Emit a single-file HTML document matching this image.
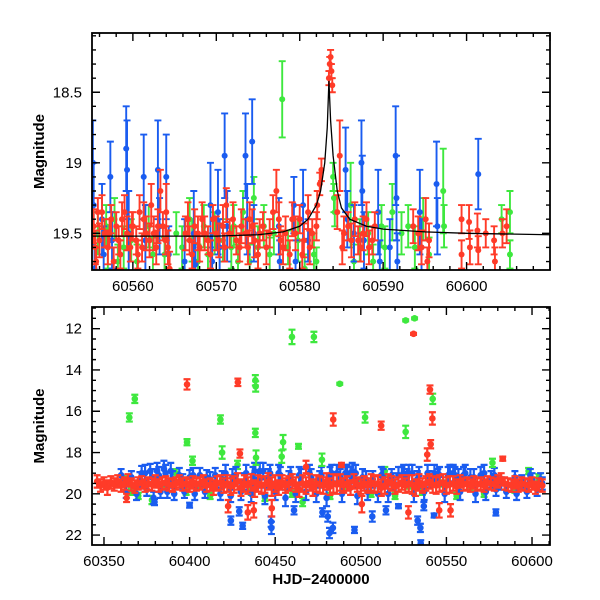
<!DOCTYPE html>
<html><head><meta charset="utf-8"><style>
html,body{margin:0;padding:0;background:#fff;}
svg{display:block;font-family:"Liberation Sans",Helvetica,sans-serif;}
</style></head><body>
<svg id="chart" width="600" height="600" viewBox="0 0 600 600">
<defs>
<clipPath id="clipTop"><rect x="92" y="33" width="458" height="237"/></clipPath>
<clipPath id="clipBot"><rect x="92" y="307" width="458" height="238"/></clipPath>
</defs>
<g id="top"></g>
<g id="bot"></g>
</svg>
<script>
// ---------- data: top panel (zoom around peak) ----------
const topRed=[[60555.3,19.45,.12],[60555.5,19.6,.12],[60555.8,19.35,.1],[60556.0,19.55,.12],[60556.6,19.5,.1],[60557.0,19.6,.12],[60557.4,19.4,.1],[60557.7,19.7,.1],[60558.0,19.45,.1],[60558.3,19.55,.1],[60558.7,19.4,.12],[60559.3,19.5,.12],[60559.7,19.6,.1],[60560.0,19.45,.1],[60560.4,19.55,.1],[60560.8,19.35,.12],[60561.1,19.6,.1],[60561.6,19.5,.12],[60562.2,19.3,.15],[60562.5,19.5,.12],[60562.8,19.6,.12],[60563.3,19.2,.15],[60563.6,19.45,.1],[60564.0,19.35,.2],[60564.2,19.6,.12],[60564.4,19.75,.12],[60566.3,19.5,.12],[60566.8,19.55,.1],[60567.4,19.45,.12],[60568.0,19.6,.1],[60568.6,19.5,.12],[60569.0,19.55,.1],[60569.6,19.4,.1],[60570.3,19.55,.12],[60570.8,19.45,.15],[60571.2,19.3,.12],[60571.6,19.5,.1],[60572.4,19.55,.1],[60573.0,19.45,.12],[60573.5,19.5,.1],[60574.0,19.4,.12],[60574.6,19.55,.12],[60575.2,19.5,.1],[60575.6,19.45,.1],[60576.0,19.6,.12],[60576.8,19.35,.12],[60577.2,19.2,.15],[60577.7,19.55,.1],[60578.3,19.5,.12],[60578.8,19.65,.1],[60579.5,19.5,.12],[60580.0,19.4,.1],[60580.5,19.55,.12],[60581.0,19.35,.12],[60581.5,19.5,.1],[60582.1,19.3,.1],[60582.4,19.15,.08],[60582.6,19.05,.08],[60583.5,18.4,.05],[60583.6,18.3,.05],[60583.7,18.25,.05],[60583.8,18.35,.05],[60583.9,18.45,.05],[60584.5,19.35,.12],[60584.8,18.95,.25],[60585.3,19.5,.12],[60585.8,19.45,.1],[60586.6,19.4,.12],[60587.0,19.55,.1],[60587.6,19.5,.12],[60588.3,19.6,.12],[60589.0,19.45,.1],[60593.6,19.45,.12],[60594.6,19.6,.12],[60595.1,19.4,.15],[60595.5,19.55,.12],[60599.4,19.4,.1],[60599.4,19.65,.1],[60600.3,19.42,.12],[60600.4,19.6,.12],[60601.3,19.48,.12],[60601.4,19.62,.1],[60602.3,19.5,.1],[60603.3,19.55,.1],[60603.4,19.7,.1],[60604.3,19.5,.1],[60604.8,19.45,.12]];
const topRedExtra=[[60555.6,19.7,.1],[60556.3,19.35,.12],[60557.2,19.5,.1],[60558.5,19.65,.1],[60559.0,19.35,.12],[60559.9,19.45,.1],[60560.6,19.65,.1],[60561.3,19.4,.12],[60562.0,19.55,.12],[60563.0,19.45,.12],[60563.9,19.55,.1],[60566.6,19.4,.12],[60567.1,19.65,.1],[60567.8,19.5,.12],[60568.3,19.4,.12],[60569.3,19.65,.1],[60570.0,19.5,.12],[60571.0,19.6,.1],[60572.0,19.4,.12],[60572.8,19.6,.1],[60573.8,19.6,.12],[60574.3,19.45,.12],[60575.0,19.65,.1],[60576.4,19.5,.1],[60577.5,19.4,.12],[60578.0,19.6,.12],[60579.1,19.4,.12],[60580.3,19.65,.1],[60581.2,19.6,.12],[60582.0,19.45,.1],[60585.1,19.6,.12],[60586.2,19.55,.12],[60587.3,19.6,.1],[60588.0,19.4,.12],[60588.7,19.55,.1],[60594.2,19.5,.12],[60595.3,19.7,.1]];
const topBlue=[[60555.2,19.0,.3],[60555.3,19.3,.3],[60555.4,19.75,.25],[60556.3,19.4,.25],[60556.5,19.65,.2],[60557.3,19.1,.25],[60557.5,19.55,.2],[60559.2,18.9,.3],[60559.3,19.05,.35],[60559.5,19.5,.3],[60561.3,19.1,.3],[60561.5,19.55,.25],[60563.0,19.05,.35],[60563.2,19.45,.2],[60564.0,19.1,.3],[60564.3,19.65,.2],[60566.2,19.7,.3],[60567.3,19.5,.3],[60567.5,19.72,.2],[60569.3,19.3,.3],[60569.5,19.7,.2],[60570.2,19.35,.3],[60570.4,19.6,.2],[60571.0,18.95,.3],[60571.3,19.45,.25],[60573.5,18.95,.3],[60573.7,19.4,.25],[60574.3,18.85,.3],[60574.5,19.5,.2],[60577.5,19.45,.2],[60577.6,19.7,.15],[60579.3,19.3,.2],[60579.5,19.7,.15],[60580.4,19.3,.25],[60581.0,19.55,.15],[60585.5,19.05,.3],[60585.7,19.4,.2],[60586.5,19.5,.2],[60587.4,19.0,.3],[60587.5,19.2,.25],[60587.7,19.55,.2],[60589.4,19.35,.3],[60589.6,19.7,.15],[60590.8,19.6,.2],[60591.5,18.95,.35],[60591.6,19.25,.3],[60591.7,19.7,.2],[60594.4,19.35,.3],[60594.6,19.6,.2],[60596.4,19.15,.3],[60596.5,19.45,.2],[60601.4,19.08,.25]];
const topGreen=[[60555.8,19.5,.15],[60557.0,19.6,.15],[60557.8,19.4,.15],[60558.2,19.7,.12],[60559.8,19.55,.15],[60560.5,19.7,.12],[60561.9,19.45,.15],[60563.8,19.65,.12],[60565.9,19.6,.15],[60566.8,19.4,.15],[60567.8,19.7,.12],[60568.5,19.45,.15],[60569.0,19.65,.12],[60570.8,19.55,.15],[60571.8,19.6,.15],[60572.6,19.7,.12],[60573.2,19.35,.15],[60574.5,19.25,.15],[60575.0,19.6,.15],[60575.7,19.45,.15],[60576.4,19.65,.12],[60577.9,18.55,.27],[60578.6,19.6,.12],[60580.6,19.75,.1],[60581.7,19.65,.15],[60582.0,19.7,.1],[60584.0,19.1,.1],[60584.1,19.25,.1],[60584.2,19.35,.1],[60586.1,19.3,.3],[60586.5,19.7,.12],[60587.2,19.55,.15],[60588.2,19.5,.15],[60588.8,19.7,.12],[60589.8,19.45,.15],[60591.1,19.35,.2],[60592.2,19.5,.15],[60593.8,19.6,.15],[60594.8,19.4,.15],[60595.5,19.65,.12],[60597.2,19.2,.3],[60597.3,19.45,.15],[60604.2,19.4,.1],[60605.2,19.35,.15],[60605.2,19.65,.1],[60556.8,19.45,.15],[60558.9,19.6,.15],[60562.4,19.65,.12],[60565.2,19.5,.15],[60567.1,19.55,.15],[60569.8,19.5,.15],[60572.1,19.45,.15],[60574.0,19.7,.12],[60576.9,19.5,.15],[60579.8,19.55,.15],[60590.2,19.6,.15],[60593.0,19.45,.15]];
const modelT=[60555,60560,60565,60570,60575,60578,60580,60581,60582,60582.5,60583,60583.3,60583.5,60583.7,60584,60584.5,60585,60586,60588,60590,60595,60600,60610];
const modelM=[19.52,19.52,19.52,19.52,19.51,19.49,19.45,19.40,19.3,19.2,19.0,18.75,18.42,18.7,18.95,19.2,19.32,19.4,19.45,19.47,19.49,19.5,19.51];
const topXTicks=[60560,60570,60580,60590,60600];
const topYTicks=["18.5","19","19.5"];

// ---------- data: bottom panel (full season) ----------
const botRedBand=[[60346,19.4,.3],[60348,19.6,.3],[60350,19.5,.3],[60352,19.7,.35],[60354,19.45,.3],[60356,19.55,.3],[60358,19.4,.3],[60360,19.6,.3],[60362,19.5,.3],[60364,19.35,.3],[60366,19.55,.3],[60368,19.65,.3],[60370,19.5,.3],[60372,19.45,.3],[60374,19.6,.3],[60376,19.5,.3],[60378,19.55,.3],[60380,19.4,.3],[60382,19.6,.3],[60384,19.5,.3],[60386,19.45,.3],[60388,19.55,.3],[60390,19.6,.3],[60392,19.5,.3],[60394,19.4,.3],[60396,19.55,.3],[60398,19.5,.3],[60400,19.6,.3],[60402,19.45,.3],[60404,19.55,.3],[60406,19.5,.3],[60408,19.4,.3],[60410,19.6,.3],[60412,19.55,.3],[60414,19.7,.35],[60416,19.5,.35],[60418,19.45,.35],[60420,19.6,.35],[60422,19.5,.4],[60424,19.65,.4],[60426,19.55,.4],[60428,19.4,.4],[60430,19.7,.4],[60432,19.5,.4],[60434,19.6,.4],[60436,19.45,.4],[60438,19.75,.4],[60440,19.5,.4],[60442,19.6,.4],[60444,19.55,.4],[60446,19.4,.4],[60448,19.65,.45],[60450,19.5,.4],[60452,19.7,.35],[60454,19.45,.35],[60456,19.6,.35],[60458,19.5,.35],[60460,19.4,.35],[60462,19.55,.35],[60464,19.8,.35],[60466,19.5,.4],[60468,19.6,.4],[60470,19.45,.4],[60472,19.7,.4],[60474,19.5,.4],[60476,19.55,.4],[60478,19.6,.4],[60480,19.4,.4],[60482,19.65,.4],[60484,19.5,.45],[60486,19.55,.45],[60488,19.45,.4],[60490,19.6,.35],[60492,19.5,.35],[60494,19.7,.35],[60496,19.4,.35],[60498,19.55,.35],[60500,19.65,.35],[60502,19.5,.35],[60504,19.6,.35],[60506,19.45,.4],[60508,19.55,.4],[60510,19.5,.4],[60512,19.7,.4],[60514,19.6,.4],[60516,19.4,.35],[60518,19.5,.35],[60520,19.65,.35],[60522,19.55,.35],[60524,19.45,.35],[60526,19.6,.35],[60528,19.5,.4],[60530,19.55,.45],[60532,19.7,.4],[60534,19.45,.4],[60536,19.6,.35],[60538,19.5,.35],[60540,19.4,.35],[60542,19.55,.4],[60544,19.6,.4],[60546,19.5,.4],[60548,19.45,.4],[60550,19.6,.4],[60552,19.55,.4],[60554,19.5,.35],[60556,19.65,.35],[60558,19.4,.3],[60560,19.55,.3],[60562,19.5,.3],[60564,19.6,.3],[60566,19.45,.3],[60568,19.55,.3],[60570,19.5,.3],[60572,19.6,.3],[60574,19.45,.3],[60576,19.5,.3],[60578,19.55,.3],[60580,19.4,.3],[60582,19.3,.3],[60584,19.5,.3],[60586,19.55,.3],[60588,19.6,.3],[60590,19.45,.3],[60592,19.6,.3],[60594,19.5,.3],[60596,19.55,.3],[60598,19.6,.3],[60600,19.5,.3],[60602,19.7,.3],[60604,19.55,.3],[60606,19.6,.3]];
const botBlueBand=[[60360,19.1,.3],[60363,19.9,.3],[60366,19.2,.3],[60369,20.0,.3],[60372,19.0,.35],[60375,19.8,.3],[60377,18.9,.35],[60379,20.2,.3],[60381,18.9,.4],[60383,19.9,.3],[60385,18.8,.4],[60387,19.9,.3],[60389,18.9,.4],[60391,20.0,.3],[60394,19.1,.35],[60397,19.9,.3],[60400,19.2,.35],[60403,20.0,.3],[60406,19.1,.35],[60409,19.9,.3],[60412,19.3,.35],[60415,19.1,.35],[60418,20.0,.3],[60421,19.0,.4],[60424,20.1,.3],[60427,19.1,.4],[60430,19.9,.4],[60433,19.0,.4],[60436,20.0,.4],[60438,18.9,.4],[60441,18.9,.4],[60444,20.1,.4],[60447,19.0,.4],[60450,19.9,.4],[60453,19.1,.4],[60456,20.2,.4],[60459,19.1,.4],[60462,20.0,.4],[60465,19.2,.4],[60468,19.9,.4],[60471,19.2,.4],[60474,20.0,.4],[60477,19.1,.4],[60480,20.2,.4],[60483,19.0,.4],[60486,19.0,.4],[60489,20.0,.4],[60492,19.0,.4],[60495,18.9,.4],[60498,20.1,.4],[60501,19.2,.4],[60504,19.9,.4],[60507,19.3,.4],[60510,20.0,.4],[60513,19.2,.4],[60516,20.0,.4],[60519,19.4,.4],[60522,19.1,.4],[60525,19.0,.4],[60528,19.0,.4],[60531,20.0,.4],[60534,19.1,.4],[60537,19.9,.4],[60540,19.3,.4],[60543,19.0,.4],[60546,19.1,.4],[60549,20.0,.4],[60552,19.0,.4],[60555,19.1,.4],[60558,19.9,.4],[60561,19.0,.4],[60564,19.2,.4],[60567,20.0,.4],[60570,19.1,.4],[60573,19.9,.4],[60576,19.3,.4],[60579,19.8,.3],[60582,19.5,.3],[60585,19.9,.3],[60588,19.6,.3],[60591,20.0,.3],[60594,19.4,.3],[60597,19.9,.3],[60600,19.3,.3],[60603,19.8,.3],[60606,19.5,.3]];
const botBlueBand2=[[60371,19.3,.35],[60374,19.0,.4],[60378,19.2,.4],[60382,19.1,.4],[60386,19.0,.4],[60390,19.3,.4],[60396,19.4,.35],[60402,19.1,.35],[60410,19.2,.35],[60419,19.3,.4],[60425,19.2,.4],[60432,19.4,.4],[60437,19.1,.4],[60440,19.3,.4],[60443,18.9,.4],[60446,19.2,.4],[60452,19.0,.4],[60458,19.3,.4],[60464,19.1,.4],[60470,19.0,.4],[60476,19.3,.4],[60482,19.1,.4],[60488,19.2,.4],[60491,19.0,.4],[60494,19.1,.4],[60497,19.0,.4],[60503,19.3,.4],[60512,19.1,.4],[60518,19.2,.4],[60524,19.1,.4],[60527,19.2,.4],[60530,19.0,.4],[60533,19.3,.4],[60539,19.0,.4],[60545,19.2,.4],[60551,19.1,.4],[60554,19.0,.4],[60557,19.2,.4],[60560,19.1,.4],[60566,19.2,.4],[60572,19.0,.4],[60578,19.1,.35],[60590,19.2,.3],[60599,19.1,.3],[60605,19.3,.3]];
const botGreenBand=[[60362,19.3,.15],[60366,19.9,.15],[60370,20.1,.15],[60374,19.5,.15],[60378,20.3,.2],[60386,19.6,.15],[60392,19.0,.2],[60398,19.9,.15],[60406,19.6,.15],[60412,20.1,.15],[60420,19.4,.15],[60428,18.6,.2],[60436,19.9,.15],[60444,20.2,.15],[60452,19.6,.15],[60460,20.0,.15],[60466,20.4,.2],[60474,19.5,.15],[60482,20.1,.15],[60490,19.7,.15],[60498,19.4,.15],[60506,20.0,.15],[60514,18.9,.2],[60520,20.1,.15],[60528,19.6,.15],[60536,19.9,.15],[60548,19.5,.15],[60556,20.1,.15],[60564,19.7,.15],[60572,20.0,.15],[60580,19.6,.15],[60590,19.8,.15],[60598,18.9,.15],[60604,19.2,.15]];
const botGreenOut=[[60364.8,16.3,.2],[60368,15.4,.2],[60398.5,17.5,.15],[60401.7,18.4,.2],[60418,16.4,.2],[60419,18.0,.3],[60438.4,14.5,.25],[60438.6,14.8,.25],[60438.4,17.05,.2],[60438.8,18.25,.35],[60454.6,17.5,.35],[60453.8,18.2,.3],[60459.8,12.4,.35],[60463.6,17.7,.12],[60472.6,12.4,.25],[60477.3,18.35,.3],[60487.7,14.67,.05],[60502.5,16.3,.25],[60526.2,11.6,.05],[60526.2,17.0,.3],[60531.4,11.5,.05],[60542,15.4,.25],[60576.9,18.5,.2]];
const botRedOut=[[60398.5,14.7,.25],[60428.2,14.6,.18],[60429.4,18.05,.2],[60483.9,16.4,.3],[60488.7,18.6,.1],[60511.9,16.7,.2],[60530.8,12.25,.05],[60540.4,14.95,.2],[60541.8,16.35,.3],[60540.8,17.6,.2],[60538.8,18.1,.3],[60582.9,18.3,.1],[60422.5,20.6,.3],[60434,20.9,.35],[60437.5,20.8,.35],[60448,20.7,.4],[60500.6,20.5,.4],[60527.8,20.9,.3],[60545.8,20.8,.35],[60552.4,20.8,.3],[60363.2,20.2,.2],[60468,18.7,.3]];
const botBlueOut=[[60424.1,21.3,.2],[60431,21.55,.15],[60429,20.85,.2],[60447.6,21.35,.25],[60447.8,21.65,.3],[60477.6,20.9,.2],[60481.7,21.9,.25],[60483.7,21.65,.25],[60480.7,21.1,.25],[60496.3,21.75,.15],[60506.7,21.1,.25],[60514.7,20.8,.2],[60533.2,21.3,.2],[60534.8,21.65,.2],[60535,22.4,.15],[60536.8,20.6,.2],[60542.8,21.05,.1],[60578.9,20.9,.15],[60400,20.55,.12],[60379.5,20.4,.15],[60461,20.8,.2],[60522,20.6,.1]];
const botXTicks=[60350,60400,60450,60500,60550,60600];
const botYTicks=[12,14,16,18,20,22];

// ---------- drawing ----------
const NS="http://www.w3.org/2000/svg";
const BLUE="#1a5cf0",GREEN="#3ee83e",RED="#ff3b28";
function mk(tag,attrs,parent){const e=document.createElementNS(NS,tag);for(const k in attrs)e.setAttribute(k,attrs[k]);parent.appendChild(e);return e;}

function panel(g,P){
  const sx=t=>P.x0+(t-P.t0)/(P.t1-P.t0)*(P.x1-P.x0);
  const sy=m=>P.y0+(m-P.m0)/(P.m1-P.m0)*(P.y1-P.y0);
  const pts=mk('g',{'clip-path':P.clip},g);
  
  
  function series(arr,color,name,r,cap){
    const sg=mk('g',{},pts);
    
    
    arr.forEach(d=>{
      const x=sx(d[0]),y=sy(d[1]),ya=sy(d[1]-d[2]),yb=sy(d[1]+d[2]);
      const p=mk('path',{d:`M${x},${ya}V${yb}M${x-cap},${ya}H${x+cap}M${x-cap},${yb}H${x+cap}`,stroke:color,'stroke-width':P.sw,fill:'none'},sg);
      
      
      const c=mk('circle',{cx:x,cy:y,r:r,fill:color},sg);
      
      
    });
  }
  P.series.forEach(s=>series(s[0],s[1],s[2],P.r,P.cap));
  if(P.model){
    let d='';P.model[0].forEach((t,i)=>{d+=(i?'L':'M')+sx(t)+','+sy(P.model[1][i]);});
    const l=mk('path',{d:d,stroke:'#000','stroke-width':1.3,fill:'none'},pts);
    
    
  }
  const fr=mk('rect',{x:P.x0,y:P.y0,width:P.x1-P.x0,height:P.y1-P.y0,fill:'none',stroke:'#000','stroke-width':1.8},g);
  
  
  let td='';
  for(let t=P.xMinorStart;t<=P.t1;t+=P.xMinor){const x=sx(t);const major=Math.abs(((t-P.xMajorBase)/P.xMajor)-Math.round((t-P.xMajorBase)/P.xMajor))<1e-6;const L=major?8:4;td+=`M${x},${P.y1}v${-L}M${x},${P.y0}v${L}`;}
  for(let m=P.yMinorStart;m<=P.m1+1e-9;m+=P.yMinor){const y=sy(m);const major=Math.abs(((m-P.yMajorBase)/P.yMajor)-Math.round((m-P.yMajorBase)/P.yMajor))<1e-6;const L=major?8:4;td+=`M${P.x0},${y}h${L}M${P.x1},${y}h${-L}`;}
  const tk=mk('path',{d:td,stroke:'#000','stroke-width':1.4,fill:'none'},g);
  
  
  P.xTicks.forEach(t=>{const e=mk('text',{x:sx(t),y:P.y1+21,'text-anchor':'middle','font-size':15},g);e.textContent=t;
    
    });
  P.yTicks.forEach(v=>{const e=mk('text',{x:P.x0-10,y:sy(parseFloat(v))+5,'text-anchor':'end','font-size':15},g);e.textContent=v;
    
    });
  const yt=mk('text',{x:0,y:0,transform:`translate(${P.x0-48},${(P.y0+P.y1)/2}) rotate(-90)`,'text-anchor':'middle','font-size':15,'font-weight':'bold'},g);
  yt.textContent='Magnitude';
  
  
}

panel(document.getElementById('top'),{x0:92,x1:550,y0:33,y1:270,t0:60555.1,t1:60610,m0:18.08,m1:19.76,clip:'url(#clipTop)',r:3,cap:3.5,sw:1.9,
  series:[[topGreen,GREEN,'series-green'],[topBlue,BLUE,'series-blue'],[topRed,RED,'series-red'],[topRedExtra,RED,'series-red-extra']],
  model:[modelT,modelM],xMinor:2,xMinorStart:60556,xMajor:10,xMajorBase:60560,yMinor:0.1,yMinorStart:18.1,yMajor:0.5,yMajorBase:18.5,
  xTicks:topXTicks,yTicks:topYTicks});
panel(document.getElementById('bot'),{x0:92,x1:550,y0:307,y1:545,t0:60343,t1:60610.5,m0:10.95,m1:22.48,clip:'url(#clipBot)',r:3.3,cap:3.5,sw:2.2,
  series:[[botGreenBand,GREEN,'series-green-baseline'],[botBlueBand,BLUE,'series-blue-baseline'],[botBlueBand2,BLUE,'series-blue-baseline-2'],[botBlueOut,BLUE,'series-blue-outliers'],[botRedBand,RED,'series-red-baseline'],[botGreenOut,GREEN,'series-green-outliers'],[botRedOut,RED,'series-red-outliers']],
  xMinor:10,xMinorStart:60350,xMajor:50,xMajorBase:60350,yMinor:0.5,yMinorStart:11,yMajor:2,yMajorBase:12,
  xTicks:botXTicks,yTicks:botYTicks.map(String)});
const xl=mk('text',{x:321,y:584,'text-anchor':'middle','font-size':15,'font-weight':'bold'},document.getElementById('bot'));
xl.textContent='HJD\u22122400000';


</script>
</body></html>
